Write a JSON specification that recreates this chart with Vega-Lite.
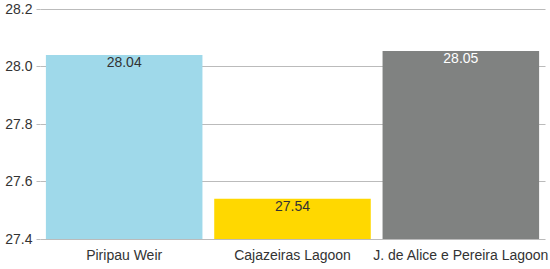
{
  "$schema": "https://vega.github.io/schema/vega-lite/v6.json",
  "width": 505,
  "height": 230,
  "autosize": {"type": "none"},
  "padding": {"left": 40, "top": 9, "right": 5, "bottom": 30},
  "background": "white",
  "config": {"view": {"stroke": null}, "font": "Liberation Sans"},
  "data": {"values": [
    {"site": "Piripau Weir", "value": 28.04},
    {"site": "Cajazeiras Lagoon", "value": 27.54},
    {"site": "J. de Alice e Pereira Lagoon", "value": 28.054}
  ]},
  "encoding": {
    "x": {"field": "site", "type": "nominal", "sort": null,
      "scale": {"paddingInner": 0.07, "paddingOuter": 0.035},
      "axis": {"title": null, "labelAngle": 0, "domain": false, "ticks": false, "labelFontSize": 14, "labelColor": "#333333", "labelPadding": 9, "labelOverlap": false}},
    "y": {"field": "value", "type": "quantitative",
      "scale": {"domain": [27.4, 28.2], "zero": false, "nice": false},
      "axis": {"title": null, "values": [27.4, 27.6, 27.8, 28.0, 28.2], "format": ".1f", "domain": false, "tickSize": 4, "tickColor": "#bbbbbb", "gridColor": "#bbbbbb", "labelFontSize": 14, "labelColor": "#333333", "labelPadding": 4}}
  },
  "layer": [
    {"mark": {"type": "bar"},
     "encoding": {"y2": {"datum": 27.4},
       "color": {"field": "site", "type": "nominal", "sort": null, "legend": null,
       "scale": {"domain": ["Piripau Weir", "Cajazeiras Lagoon", "J. de Alice e Pereira Lagoon"], "range": ["#9fd9ea", "#ffd800", "#808281"]}}}},
    {"mark": {"type": "text", "baseline": "top", "dy": 1, "fontSize": 14},
     "encoding": {"text": {"field": "value", "type": "quantitative", "format": ".2f"},
       "color": {"field": "site", "type": "nominal", "sort": null, "legend": null,
       "scale": {"domain": ["Piripau Weir", "Cajazeiras Lagoon", "J. de Alice e Pereira Lagoon"], "range": ["#333333", "#333333", "#ffffff"]}}}}
  ],
  "resolve": {"scale": {"color": "independent"}}
}
